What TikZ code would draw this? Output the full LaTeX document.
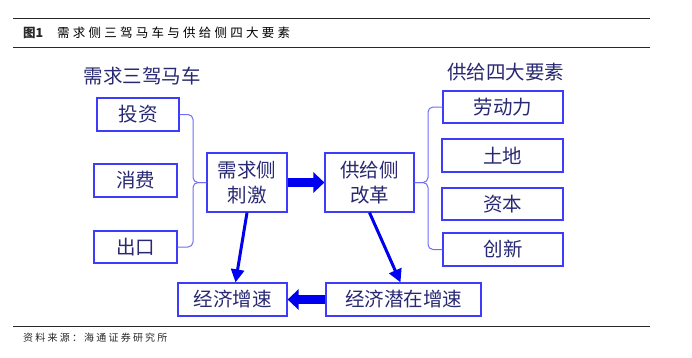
\documentclass[tikz,border=0pt]{standalone}
\usepackage{fontspec}
\setmainfont{Liberation Sans}
\newfontfamily\cjk{Noto Sans CJK SC}
\newfontfamily\cjktitle{Noto Sans CJK SC}[LetterSpace=26]
\newfontfamily\cjksrc{Noto Sans CJK SC}[LetterSpace=22]
\usetikzlibrary{arrows.meta}
\definecolor{boxblue}{RGB}{60,60,250}
\definecolor{navy}{RGB}{40,40,115}
\definecolor{arrblue}{RGB}{0,0,240}
\definecolor{braceblue}{RGB}{110,110,250}
\definecolor{rulegray}{RGB}{40,40,40}
\begin{document}
\begin{tikzpicture}[x=1pt,y=-1pt,
  box/.style={draw=boxblue,line width=1.2pt,text=navy,inner sep=0pt,
    font=\cjk\fontsize{19.5}{25}\selectfont,align=center},
  grouplabel/.style={text=navy,inner sep=0pt,font=\cjk\fontsize{19.5}{22}\selectfont},
  bracepath/.style={draw=braceblue,line width=1pt,rounded corners=5pt},
  thinarrow/.style={draw=arrblue,line width=3pt,-{Triangle[length=13pt,width=13pt]}},
  fatarrow/.style={draw=arrblue,line width=9pt,-{Triangle[length=11pt,width=20pt]}},
  rulestyle/.style={draw=rulegray,line width=1pt}]
\useasboundingbox (0,0) rectangle (692,357);

% title and rules
\coordinate (r1a) at (13,18); \coordinate (r1b) at (650,18);
\coordinate (r2a) at (13,47); \coordinate (r2b) at (650,47);
\coordinate (r3a) at (13,326); \coordinate (r3b) at (650,326);
\draw[rulestyle] (r1a) -- (r1b);
\draw[rulestyle] (r2a) -- (r2b);
\draw[rulestyle] (r3a) -- (r3b);
\node[anchor=west,inner sep=0pt,font=\cjk\bfseries\fontsize{12.5}{14}\selectfont,text=rulegray] (fig) at (23,33) {图1};
\node[anchor=west,inner sep=0pt,font=\cjktitle\fontsize{12.5}{14}\selectfont,text=black] (title) at (57,33) {需求侧三驾马车与供给侧四大要素};
\node[anchor=west,inner sep=0pt,font=\cjksrc\fontsize{10}{12}\selectfont,text=rulegray] (src) at (23,338) {资料来源：海通证券研究所};

% group labels
\node[grouplabel] (lblL) at (142,76) {需求三驾马车};
\node[grouplabel] (lblR) at (505.5,72) {供给四大要素};

% boxes
\node[box,minimum width=82pt,minimum height=33pt] (tz) at (138,114.5) {投资};
\node[box,minimum width=83pt,minimum height=33pt] (xf) at (135.5,180.5) {消费};
\node[box,minimum width=83pt,minimum height=32pt] (ck) at (135.5,247) {出口};
\node[box,minimum width=80pt,minimum height=59pt] (xq) at (247,182.5) {需求侧\\刺激};
\node[box,minimum width=89pt,minimum height=59pt] (gj) at (369.5,182.5) {供给侧\\改革};
\node[box,minimum width=120pt,minimum height=32pt] (ld) at (503,107) {劳动力};
\node[box,minimum width=121pt,minimum height=33pt] (td) at (502.5,155.5) {土地};
\node[box,minimum width=121pt,minimum height=32pt] (zb) at (502.5,204) {资本};
\node[box,minimum width=120pt,minimum height=33pt] (cx) at (503,249.5) {创新};
\node[box,minimum width=109pt,minimum height=33pt] (zs) at (232.5,299.5) {经济增速};
\node[box,minimum width=155pt,minimum height=33pt] (qz) at (403.5,299.5) {经济潜在增速};

% braces
\coordinate (lbx) at (193,0);
\coordinate (rbx) at (428,0);
\draw[bracepath] (tz.east) -- (tz.east -| lbx) -- (xq.west -| lbx) -- (xq.west);
\draw[bracepath] (ck.east) -- (ck.east -| lbx) -- (xq.west -| lbx) -- (xq.west);
\draw[bracepath] (ld.west) -- (ld.west -| rbx) -- (gj.east -| rbx) -- (gj.east);
\draw[bracepath] (cx.west) -- (cx.west -| rbx) -- (gj.east -| rbx) -- (gj.east);

% arrows
\draw[fatarrow] (xq.east) -- (gj.west);
\draw[fatarrow] (qz.west) -- (zs.east);
\draw[thinarrow] (xq.south) -- ([xshift=3pt]zs.north);
\draw[thinarrow] (gj.south) -- ([xshift=-3pt]qz.north);
\end{tikzpicture}
\end{document}
